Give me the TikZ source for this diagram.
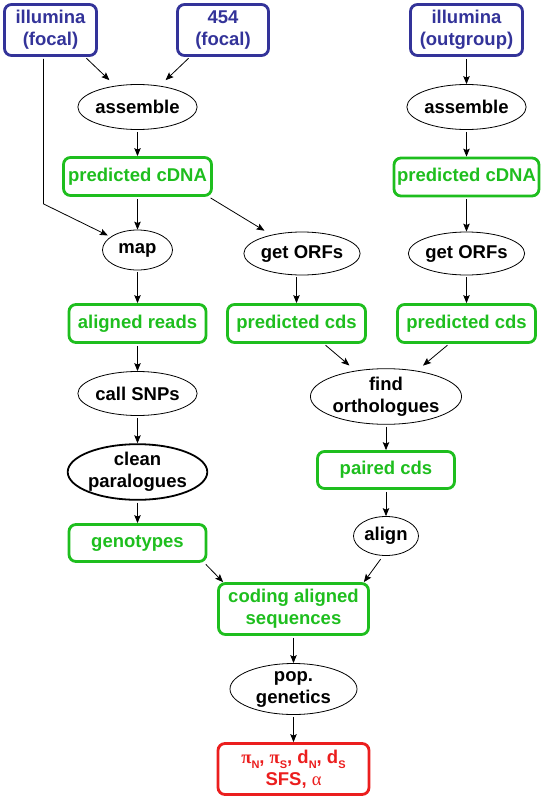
\documentclass[tikz,border=0pt]{standalone}
\usepackage{fontspec}
\setmainfont{Liberation Sans}
\newfontfamily\grkfont{Liberation Serif}
\usetikzlibrary{shapes.geometric,arrows.meta}
\definecolor{inblue}{RGB}{51,51,153}
\definecolor{ngreen}{RGB}{30,190,30}
\definecolor{ored}{RGB}{235,30,30}
\newcommand{\lowsub}[1]{\raisebox{-0.28em}{\fontsize{11}{11}\selectfont #1}}
\begin{document}
\begin{tikzpicture}[x=1pt,y=-1pt,
  every node/.style={font=\fontsize{18.5}{22}\selectfont\bfseries, align=center, inner sep=0pt},
  inbox/.style={rectangle, draw=inblue, text=inblue, line width=2.8pt, rounded corners=7pt},
  databox/.style={rectangle, draw=ngreen, text=ngreen, line width=2.8pt, rounded corners=7pt},
  resbox/.style={rectangle, draw=ored, text=ored, line width=2.8pt, rounded corners=7pt},
  proc/.style={ellipse, draw=black, line width=0.8pt},
  thickproc/.style={ellipse, draw=black, line width=1.8pt},
  arr/.style={-{Stealth[length=8pt,width=6.5pt,inset=1.5pt]}, line width=0.8pt, shorten <=2pt},
]
\useasboundingbox (0,0) rectangle (544,800);
% inputs
\node[inbox, minimum width=92pt, minimum height=51pt] (illf) at (50.5,30) {illumina\\(focal)};
\node[inbox, minimum width=91pt, minimum height=51pt] (f454) at (223,30) {454\\(focal)};
\node[inbox, minimum width=112pt, minimum height=51pt] (illo) at (466.5,30) {illumina\\(outgroup)};
% assemble
\node[proc, minimum width=95pt, minimum height=45pt] (asmL) at (137.5,107) {assemble};
\node[proc, minimum width=91pt, minimum height=45pt] (asmR) at (466.5,107) {assemble};
% predicted cDNA
\node[databox, minimum width=148pt, minimum height=38pt] (pcL) at (137.5,176.5) {predicted cDNA};
\node[databox, minimum width=145pt, minimum height=38pt] (pcR) at (466.5,177) {predicted cDNA};
% map / get ORFs
\node[proc, minimum width=70pt, minimum height=40pt] (map) at (137.5,250) {map};
\node[proc, minimum width=94pt, minimum height=43pt] (orfM) at (302,253.5) {get ORFs};
\node[proc, minimum width=94pt, minimum height=43pt] (orfR) at (466.5,253.5) {get ORFs};
% aligned reads / predicted cds
\node[databox, minimum width=137pt, minimum height=38pt] (alR) at (137.5,323.5) {aligned reads};
\node[databox, minimum width=138pt, minimum height=38pt] (pcdsM) at (296.5,323.5) {predicted cds};
\node[databox, minimum width=138pt, minimum height=38pt] (pcdsR) at (466.5,323.5) {predicted cds};
% call SNPs / find orthologues
\node[proc, minimum width=93pt, minimum height=44pt] (snp) at (137.5,393.5) {call SNPs};
\node[proc, minimum width=125pt, minimum height=52pt] (orth) at (386,396.5) {find\\orthologues};
% clean paralogues / paired cds
\node[thickproc, minimum width=120pt, minimum height=54pt] (clean) at (137.5,472) {clean\\paralogues};
\node[databox, minimum width=137pt, minimum height=37pt] (paired) at (386,470) {paired cds};
% genotypes / align
\node[databox, minimum width=137pt, minimum height=37pt] (geno) at (137.5,543) {genotypes};
\node[proc, minimum width=65pt, minimum height=39pt] (align) at (386,536) {align};
% coding aligned sequences
\node[databox, minimum width=150pt, minimum height=51pt] (coding) at (293.5,609) {coding aligned\\sequences};
\node[proc, minimum width=127pt, minimum height=51pt] (pop) at (293.5,689) {pop.\\genetics};
\node[resbox, minimum width=151pt, minimum height=51pt] (res) at (293.5,769)
  {{\grkfont π}\lowsub{N}, {\grkfont π}\lowsub{S}, d\lowsub{N}, d\lowsub{S}\\SFS, {\grkfont\mdseries α}};
% connectors
\draw[arr, shorten >=8pt] ([xshift=34.5pt]illf.south) -- (asmL);
\draw[arr, shorten >=8pt] ([xshift=-33pt]f454.south) -- (asmL);
\draw[arr] (illo.south) -- (asmR.north);
\draw[arr] (asmL.south) -- (pcL.north);
\draw[arr] (asmR.south) -- (pcR.north);
\draw[arr, shorten >=3pt] ([xshift=-7pt]illf.south) -- ++(0,147) -- (map);
\draw[arr] (pcL.south) -- (map.north);
\draw[arr, shorten >=8pt] ([xshift=-4pt]pcL.south east) -- (orfM);
\draw[arr] (pcR.south) -- (orfR.north);
\draw[arr] (map.south) -- (alR.north);
\draw[arr] (pcdsM.north |- orfM.south) -- (pcdsM.north);
\draw[arr] (orfR.south) -- (pcdsR.north);
\draw[arr] (alR.south) -- (snp.north);
\draw[arr, shorten >=8pt] ([xshift=27.5pt]pcdsM.south) -- (orth);
\draw[arr, shorten >=8pt] ([xshift=-17.5pt]pcdsR.south) -- (orth);
\draw[arr] (snp.south) -- (clean.north);
\draw[arr] (orth.south) -- (paired.north);
\draw[arr] (clean.south) -- (geno.north);
\draw[arr] (paired.south) -- (align.north);
\draw[arr] ([xshift=-3pt]geno.south east) -- ([xshift=6pt]coding.north west);
\draw[arr, shorten <=4pt] ([xshift=-3pt]align.south) -- ([xshift=-6pt]coding.north east);
\draw[arr] (coding.south) -- (pop.north);
\draw[arr] (pop.south) -- (res.north);
\end{tikzpicture}
\end{document}
